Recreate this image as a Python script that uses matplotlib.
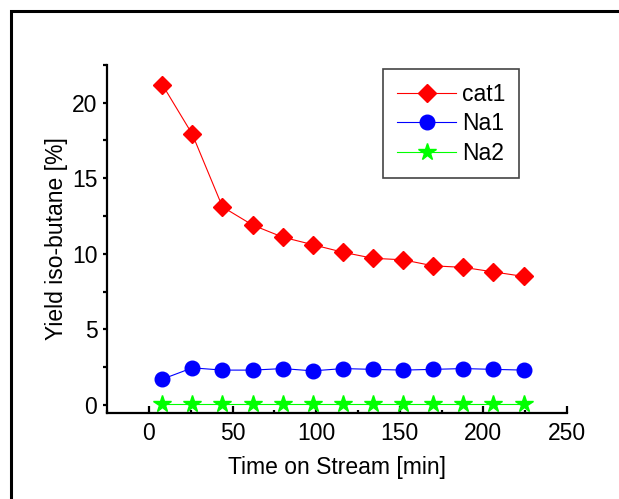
import numpy as np
import matplotlib.pyplot as plt
from matplotlib.patches import Rectangle
from matplotlib.ticker import MultipleLocator

plt.rcParams['font.family'] = ['Liberation Sans', 'DejaVu Sans']

# time on stream [min]
time = [8, 26, 44, 62, 80, 98, 116, 134, 152, 170, 188, 206, 224]

# iso-butane yield [%] for each sample
cat1 = [21.2, 17.9, 13.1, 11.9, 11.1, 10.6, 10.1, 9.7, 9.6, 9.2, 9.1, 8.8, 8.5]
na1 = [1.7, 2.45, 2.3, 2.3, 2.4, 2.25, 2.4, 2.35, 2.3, 2.35, 2.4, 2.35, 2.3]
na2 = [0.05, 0.05, 0.05, 0.05, 0.05, 0.05, 0.05, 0.05, 0.05, 0.05, 0.05, 0.05, 0.05]

fs = 16.5

fig = plt.figure(figsize=(6.19, 4.99), dpi=100)
ax = fig.add_axes([0.173, 0.172, 0.743, 0.698])

ax.plot(time, cat1, color='red', lw=0.8, marker='D', ms=9, mec='red', label='cat1')
ax.plot(time, na1, color='blue', lw=0.8, marker='o', ms=10.5, mec='blue', label='Na1')
ax.plot(time, na2, color='#00ff00', lw=0.8, marker='*', ms=13, mec='#00ff00', label='Na2')

ax.set_xlim(-25, 250)
ax.set_ylim(-0.55, 22.5)

ax.xaxis.set_major_locator(MultipleLocator(50))
ax.xaxis.set_minor_locator(MultipleLocator(25))
ax.yaxis.set_major_locator(MultipleLocator(5))
ax.yaxis.set_minor_locator(MultipleLocator(2.5))

for s in ['top', 'right']:
    ax.spines[s].set_visible(False)
for s in ['left', 'bottom']:
    ax.spines[s].set_linewidth(1.6)

ax.tick_params(axis='x', which='major', direction='in', length=5, width=1.6, pad=6, labelsize=fs)
ax.tick_params(axis='x', which='minor', direction='in', length=2.5, width=1.6)
ax.tick_params(axis='y', which='both', direction='out', length=3, width=1.6, pad=4, labelsize=fs)

ax.set_xlabel('Time on Stream [min]', fontsize=fs, labelpad=8)
ax.set_ylabel('Yield iso-butane [%]', fontsize=fs, labelpad=2.5)

leg = ax.legend(loc='upper left', bbox_to_anchor=(383 / 619, 1 - 69 / 499),
                bbox_transform=fig.transFigure, fontsize=fs, handlelength=2.6,
                fancybox=False, edgecolor='#444444', framealpha=1,
                borderpad=0.6, labelspacing=0.28, handletextpad=0.25,
                borderaxespad=0)
leg.get_frame().set_linewidth(1.2)

# outer frame around the figure
fig.patches.append(Rectangle((11 / 619, -0.1), 1.2, 1.1 - 11 / 499,
                             transform=fig.transFigure, fill=False,
                             edgecolor='black', lw=2.2, clip_on=False))

fig.savefig('out.png', dpi=100)
